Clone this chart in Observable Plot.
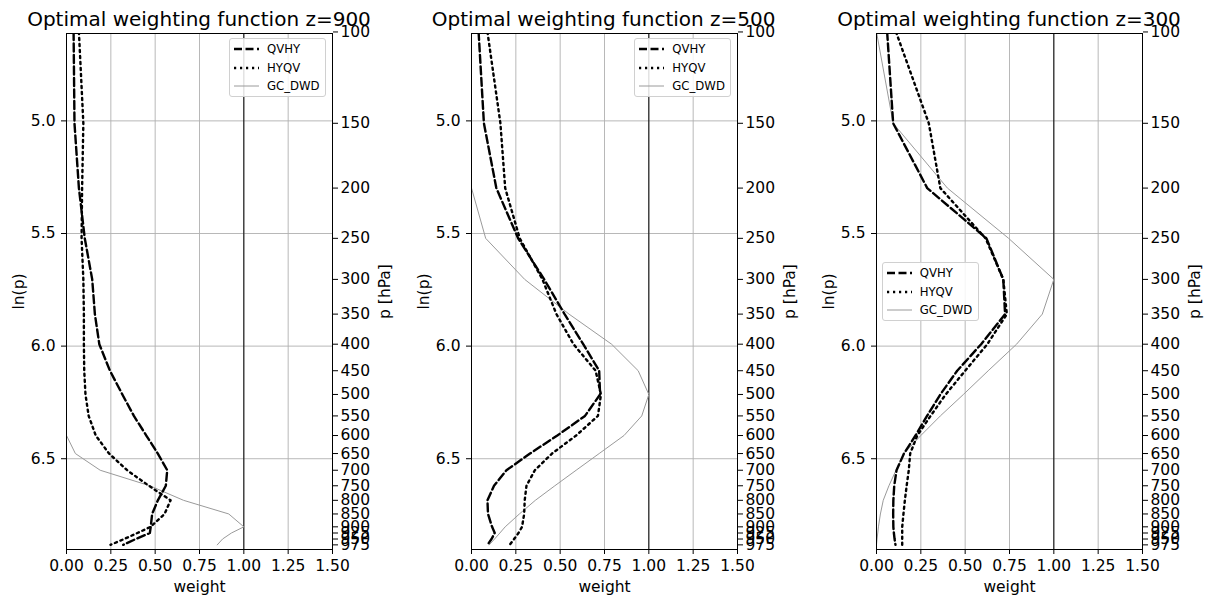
<!DOCTYPE html>
<html>
<head>
<meta charset="utf-8">
<script src="https://cdn.jsdelivr.net/npm/d3@7"></script>
<script src="https://cdn.jsdelivr.net/npm/@observablehq/plot@0.6"></script>
<style>
html, body { margin: 0; padding: 0; background: #fff; overflow: hidden; }
#wrap { position: relative; width: 1207px; height: 596px; font-family: "DejaVu Sans", sans-serif; color: #000; }
.panel { position: absolute; top: 0; }
.title { position: absolute; top: 9px; font-size: 20px; line-height: 20px; white-space: nowrap; transform: translateX(-50%); }
.legend { position: absolute; width: 97px; height: 59px; box-sizing: border-box; background: rgba(255,255,255,0.85);
  border: 1px solid #d0d0d0; border-radius: 3px; font-size: 11.7px; }
.legend .row { position: absolute; left: 0; height: 14px; line-height: 14px; width: 100%; }
.legend svg { position: absolute; left: 4px; top: 0; }
.legend span { position: absolute; left: 37px; top: 0; white-space: nowrap; }
</style>
</head>
<body>
<div id="wrap"></div>
<script>
// Pressure levels (hPa) — also the right-hand tick labels
const pressures = [100,150,200,250,300,350,400,450,500,550,600,650,700,750,800,850,900,925,950,975];
// Left-axis ticks (ln p) and x ticks (weight)
const lnTicks = [5.0, 5.5, 6.0, 6.5];
const weightTicks = [0, 0.25, 0.5, 0.75, 1.0, 1.25, 1.5];
const levels = [900, 500, 300];
const seriesNames = ["QVHY", "HYQV", "GC_DWD"];

// z = 900
const qvhy900 = [0.04,0.045,0.07,0.103,0.145,0.16,0.185,0.245,0.315,0.38,0.45,0.515,0.568,0.56,0.515,0.483,0.475,0.47,0.39,0.32];
const hyqv900 = [0.07,0.095,0.088,0.085,0.095,0.098,0.098,0.10,0.107,0.125,0.165,0.24,0.342,0.465,0.587,0.553,0.474,0.40,0.325,0.248];
const gc900   = [0,0,0,0,0,0,0,0,0,0,0,0.05,0.19,0.47,0.66,0.915,1.0,0.93,0.88,0.85];
// z = 500
const qvhy500 = [0.04,0.07,0.14,0.263,0.41,0.525,0.63,0.72,0.725,0.64,0.484,0.33,0.197,0.127,0.09,0.093,0.116,0.131,0.113,0.09];
const hyqv500 = [0.09,0.163,0.19,0.272,0.40,0.479,0.575,0.70,0.73,0.713,0.59,0.454,0.357,0.31,0.30,0.297,0.285,0.265,0.24,0.215];
const gc500   = [0,0,0,0.08,0.30,0.55,0.79,0.94,1.0,0.96,0.86,0.72,0.59,0.47,0.36,0.27,0.19,0.16,0.13,0.10];
// z = 300
const qvhy300 = [0.06,0.094,0.286,0.62,0.715,0.725,0.59,0.455,0.36,0.285,0.22,0.155,0.113,0.10,0.095,0.094,0.095,0.098,0.102,0.107];
const hyqv300 = [0.11,0.295,0.36,0.615,0.715,0.735,0.625,0.50,0.39,0.305,0.23,0.19,0.182,0.17,0.16,0.152,0.145,0.145,0.145,0.145];
const gc300   = [0,0.094,0.40,0.745,1.0,0.935,0.79,0.63,0.49,0.36,0.25,0.155,0.11,0.07,0.038,0.022,0.011,0.007,0.003,0];

const panelData = [
  [qvhy900, hyqv900, gc900],
  [qvhy500, hyqv500, gc500],
  [qvhy300, hyqv300, gc300]
];

const styles = {
  QVHY:   {stroke: "#000", strokeWidth: 2.4, strokeDasharray: "8,3.5"},
  HYQV:   {stroke: "#000", strokeWidth: 2.4, strokeDasharray: "2.2,3.8"},
  GC_DWD: {stroke: "#9a9a9a", strokeWidth: 1, strokeDasharray: null}
};

const lnP = pressures.map(p => Math.log(p));
const frameLefts = [66, 470.7, 876];
const legendPos = [[229, 38], [634.3, 38], [881.7, 262]];
const wrap = document.getElementById("wrap");

function rowsFor(vals) {
  return pressures.map((p, i) => ({w: vals[i], lnp: lnP[i]}));
}

levels.forEach((z, k) => {
  const [q, h, g] = panelData[k];
  const lineMarks = [g, h, q].map((vals, j) => {
    const name = seriesNames[2 - j];
    const s = styles[name];
    return Plot.line(rowsFor(vals), {x: "w", y: "lnp", stroke: s.stroke, strokeWidth: s.strokeWidth,
      strokeDasharray: s.strokeDasharray || undefined, clip: true});
  });
  const chart = Plot.plot({
    width: 396, height: 596,
    marginLeft: 66, marginRight: 64, marginTop: 33, marginBottom: 47,
    style: {fontFamily: "DejaVu Sans", fontSize: "15px", color: "#000", background: "transparent", overflow: "visible"},
    x: {domain: [0, 1.5]},
    y: {domain: [4.612, 6.903], reverse: true},
    marks: [
      Plot.gridX(weightTicks, {stroke: "#b0b0b0", strokeOpacity: 1, strokeWidth: 0.9}),
      Plot.gridY(lnTicks, {stroke: "#b0b0b0", strokeOpacity: 1, strokeWidth: 0.9}),
      Plot.ruleX([1], {stroke: "#000", strokeWidth: 1}),
      ...lineMarks,
      Plot.frame({stroke: "#000", strokeWidth: 1}),
      Plot.axisX(weightTicks, {tickFormat: d3.format(".2f"), tickSize: 5, tickPadding: 5, fontSize: 15.5,
        label: "weight", labelAnchor: "center", labelArrow: "none", labelOffset: 42}),
      Plot.axisY(lnTicks, {anchor: "left", tickFormat: d3.format(".1f"), tickSize: 5, tickPadding: 6, fontSize: 15.5,
        label: "ln(p)", labelAnchor: "center", labelArrow: "none", labelOffset: 54}),
      Plot.axisY(lnP, {anchor: "right", tickFormat: d => String(pressures[lnP.indexOf(d)]), tickSize: 5, tickPadding: 3, fontSize: 15.5,
        label: "p [hPa]", labelAnchor: "center", labelArrow: "none", labelOffset: 57})
    ]
  });
  chart.classList.add("panel");
  chart.style.left = (frameLefts[k] - 66) + "px";
  wrap.appendChild(chart);

  const t = document.createElement("div");
  t.className = "title";
  t.style.left = (frameLefts[k] + 133) + "px";
  t.textContent = "Optimal weighting function z=" + z;
  wrap.appendChild(t);

  const lg = document.createElement("div");
  lg.className = "legend";
  lg.style.left = legendPos[k][0] + "px";
  lg.style.top = legendPos[k][1] + "px";
  const rowTops = [3, 21.5, 40];
  seriesNames.forEach((name, j) => {
    const s = styles[name];
    const row = document.createElement("div");
    row.className = "row";
    row.style.top = rowTops[j] + "px";
    row.innerHTML = `<svg width="26" height="14"><line x1="0" x2="25" y1="7" y2="7" stroke="${s.stroke}" stroke-width="${s.strokeWidth}" ${s.strokeDasharray ? `stroke-dasharray="${s.strokeDasharray}"` : ""}/></svg><span>${name}</span>`;
    lg.appendChild(row);
  });
  wrap.appendChild(lg);
});
</script>
</body>
</html>
